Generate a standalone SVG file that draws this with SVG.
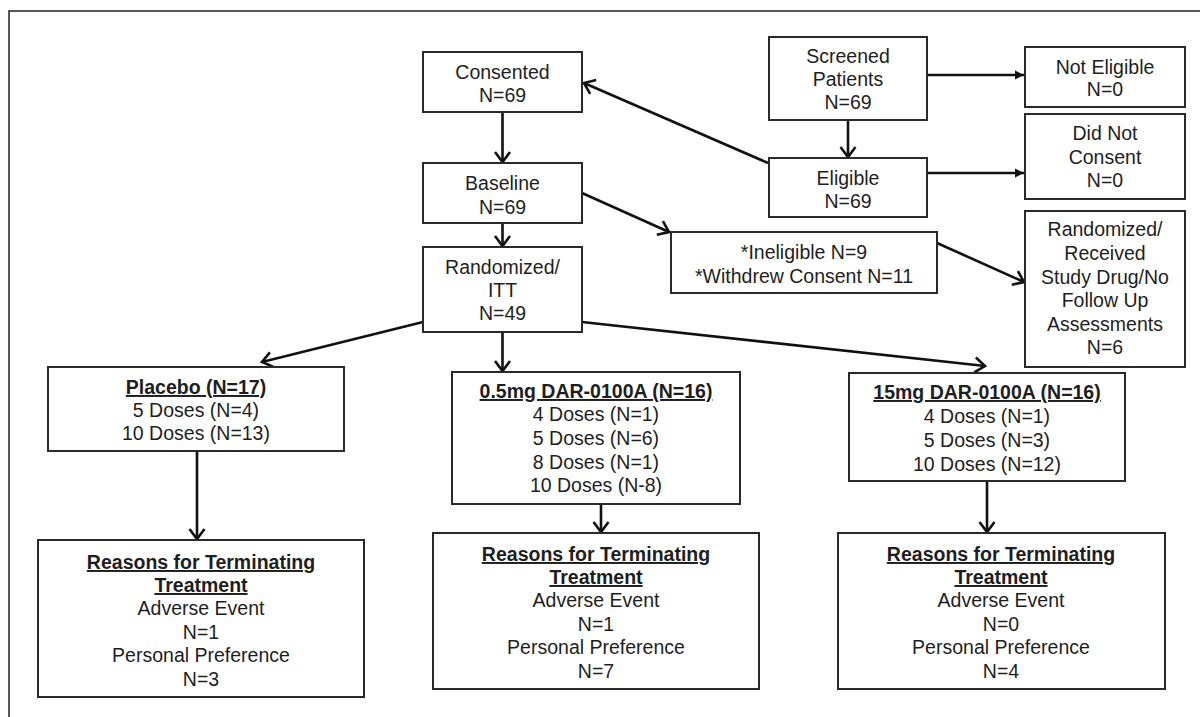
<svg xmlns="http://www.w3.org/2000/svg" width="1200" height="717" viewBox="0 0 1200 717">
<defs>
<style>
.box{fill:#fff;stroke:#2a2a2a;stroke-width:2}
.t{font-family:"Liberation Sans",Arial,sans-serif;font-size:19.5px;fill:#1e1e1e;text-anchor:middle}
.b{font-weight:bold;text-decoration:underline}
.c{stroke:#111;stroke-width:2.6;fill:none}
.v{marker-end:url(#chev)}
.f{marker-end:url(#tri)}
</style>
<marker id="chev" markerUnits="userSpaceOnUse" viewBox="-12 -9 14 18" refX="0" refY="0" markerWidth="14" markerHeight="18" orient="auto" overflow="visible">
<path d="M-10,-7.5 L0,0 L-10,7.5" fill="none" stroke="#111" stroke-width="2.6" stroke-linejoin="miter"/>
</marker>
<marker id="tri" markerUnits="userSpaceOnUse" viewBox="-10 -6 12 12" refX="0" refY="0" markerWidth="12" markerHeight="12" orient="auto" overflow="visible">
<path d="M-9,-4.5 L0,0 L-9,4.5 z" fill="#111"/>
</marker>
</defs>
<rect x="0" y="0" width="1200" height="717" fill="#fff"/>
<rect x="9" y="11" width="1210" height="720" fill="none" stroke="#222" stroke-width="1.5"/>

<g id="connectors">
<line class="c v" x1="502.5" y1="112" x2="502.5" y2="162"/>
<line class="c v" x1="502.5" y1="223" x2="502.5" y2="246"/>
<line class="c v" x1="848" y1="120" x2="848" y2="157"/>
<line class="c f" x1="927" y1="75" x2="1024" y2="75"/>
<line class="c f" x1="927" y1="173" x2="1024" y2="173"/>
<line class="c v" x1="768" y1="163" x2="584" y2="83"/>
<line class="c v" x1="582" y1="193" x2="669" y2="232"/>
<line class="c v" x1="937" y1="243" x2="1024" y2="282"/>
<line class="c v" x1="423" y1="322" x2="262" y2="362"/>
<line class="c v" x1="502.5" y1="332" x2="502.5" y2="371"/>
<line class="c v" x1="582" y1="322" x2="985" y2="366"/>
<line class="c v" x1="197" y1="451" x2="197" y2="539"/>
<line class="c v" x1="601" y1="504" x2="601" y2="532"/>
<line class="c v" x1="987" y1="481" x2="987" y2="532"/>
</g>

<g id="consented">
<rect class="box" x="423" y="52" width="159" height="60"/>
<text class="t" x="502.5" y="79">Consented</text>
<text class="t" x="502.5" y="102">N=69</text>
</g>
<g id="baseline">
<rect class="box" x="423" y="163" width="159" height="60"/>
<text class="t" x="502.5" y="190">Baseline</text>
<text class="t" x="502.5" y="214">N=69</text>
</g>
<g id="randomized-itt">
<rect class="box" x="423" y="247" width="159" height="85"/>
<text class="t" x="502.5" y="274">Randomized/</text>
<text class="t" x="502.5" y="297">ITT</text>
<text class="t" x="502.5" y="320">N=49</text>
</g>
<g id="screened">
<rect class="box" x="769" y="37" width="158" height="83"/>
<text class="t" x="848" y="63">Screened</text>
<text class="t" x="848" y="86">Patients</text>
<text class="t" x="848" y="109">N=69</text>
</g>
<g id="eligible">
<rect class="box" x="769" y="158" width="158" height="59"/>
<text class="t" x="848" y="185">Eligible</text>
<text class="t" x="848" y="208">N=69</text>
</g>
<g id="not-eligible">
<rect class="box" x="1025" y="47" width="160" height="60"/>
<text class="t" x="1105" y="74">Not Eligible</text>
<text class="t" x="1105" y="96">N=0</text>
</g>
<g id="did-not-consent">
<rect class="box" x="1025" y="114" width="160" height="85"/>
<text class="t" x="1105" y="140">Did Not</text>
<text class="t" x="1105" y="164">Consent</text>
<text class="t" x="1105" y="187">N=0</text>
</g>
<g id="ineligible">
<rect class="box" x="671" y="232" width="266" height="61"/>
<text class="t" x="804" y="259">*Ineligible N=9</text>
<text class="t" x="804" y="283">*Withdrew Consent N=11</text>
</g>
<g id="randomized-received">
<rect class="box" x="1025" y="211" width="160" height="156"/>
<text class="t" x="1105" y="236">Randomized/</text>
<text class="t" x="1105" y="260">Received</text>
<text class="t" x="1105" y="284">Study Drug/No</text>
<text class="t" x="1105" y="307">Follow Up</text>
<text class="t" x="1105" y="331">Assessments</text>
<text class="t" x="1105" y="354">N=6</text>
</g>
<g id="placebo">
<rect class="box" x="48" y="367" width="296" height="84"/>
<text class="t b" x="196" y="394">Placebo (N=17)</text>
<text class="t" x="196" y="417">5 Doses (N=4)</text>
<text class="t" x="196" y="440">10 Doses (N=13)</text>
</g>
<g id="dose-05mg">
<rect class="box" x="452" y="372" width="288" height="132"/>
<text class="t b" x="596" y="398">0.5mg DAR-0100A (N=16)</text>
<text class="t" x="596" y="421">4 Doses (N=1)</text>
<text class="t" x="596" y="445">5 Doses (N=6)</text>
<text class="t" x="596" y="469">8 Doses (N=1)</text>
<text class="t" x="596" y="492">10 Doses (N-8)</text>
</g>
<g id="dose-15mg">
<rect class="box" x="849" y="373" width="276" height="108"/>
<text class="t b" x="987" y="399">15mg DAR-0100A (N=16)</text>
<text class="t" x="987" y="423">4 Doses (N=1)</text>
<text class="t" x="987" y="447">5 Doses (N=3)</text>
<text class="t" x="987" y="471">10 Doses (N=12)</text>
</g>
<g id="reasons-placebo">
<rect class="box" x="38" y="540" width="326" height="157"/>
<text class="t b" x="201" y="569">Reasons for Terminating</text>
<text class="t b" x="201" y="592">Treatment</text>
<text class="t" x="201" y="615">Adverse Event</text>
<text class="t" x="201" y="639">N=1</text>
<text class="t" x="201" y="662">Personal Preference</text>
<text class="t" x="201" y="686">N=3</text>
</g>
<g id="reasons-05mg">
<rect class="box" x="433" y="533" width="326" height="156"/>
<text class="t b" x="596" y="561">Reasons for Terminating</text>
<text class="t b" x="596" y="584">Treatment</text>
<text class="t" x="596" y="607">Adverse Event</text>
<text class="t" x="596" y="631">N=1</text>
<text class="t" x="596" y="654">Personal Preference</text>
<text class="t" x="596" y="678">N=7</text>
</g>
<g id="reasons-15mg">
<rect class="box" x="838" y="533" width="327" height="156"/>
<text class="t b" x="1001" y="561">Reasons for Terminating</text>
<text class="t b" x="1001" y="584">Treatment</text>
<text class="t" x="1001" y="607">Adverse Event</text>
<text class="t" x="1001" y="631">N=0</text>
<text class="t" x="1001" y="654">Personal Preference</text>
<text class="t" x="1001" y="678">N=4</text>
</g>
</svg>
